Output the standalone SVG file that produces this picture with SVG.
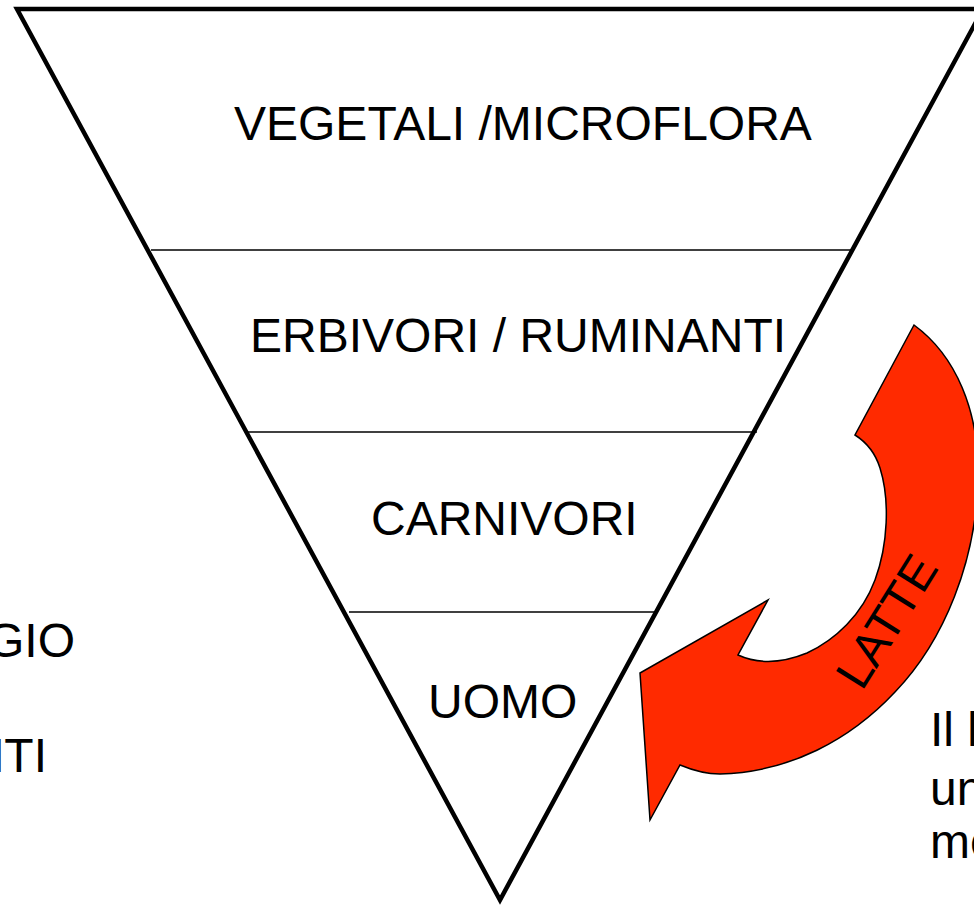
<svg xmlns="http://www.w3.org/2000/svg" width="974" height="905" viewBox="0 0 974 905">
<style>
text{font-family:"Liberation Sans",Arial,sans-serif;font-size:48px;fill:#000}
.div{stroke:#000;stroke-width:1.5}
</style>
<rect width="974" height="905" fill="#fff"/>
<g id="pyramid">
<polygon points="17,9 983,9 500,900" fill="#fff" stroke="#000" stroke-width="4.5" stroke-linejoin="miter"/>
<line class="div" x1="151" y1="250" x2="852" y2="250"/>
<line class="div" x1="247" y1="432" x2="757" y2="432"/>
<line class="div" x1="349" y1="612" x2="655" y2="612"/>
</g>
<g id="level1"><text x="234" y="140">VEGETALI /MICROFLORA</text></g>
<g id="level2"><text x="250" y="352">ERBIVORI / RUMINANTI</text></g>
<g id="level3"><text x="371" y="535">CARNIVORI</text></g>
<g id="level4"><text x="428" y="718">UOMO</text></g>
<g id="arrow">
<path d="M914,325 C955,355 980,410 978,480 C976,560 945,640 895,692 C850,740 790,772 720,774 C705,774 692,770 680,765 L650,820 L640,673 L768,600 L738,655 C760,665 785,662 807,653 C835,640 862,615 875,580 C888,545 890,500 880,468 C875,452 866,442 855,435 Z" fill="#ff2a00" stroke="#000" stroke-width="1.5" stroke-linejoin="miter"/>
<text x="888" y="637" text-anchor="middle" transform="rotate(-58 888 622)">LATTE</text>
</g>
<g id="left-text">
<text x="75" y="657" text-anchor="end">GIO</text>
<text x="47" y="772" text-anchor="end">NTI</text>
</g>
<g id="right-text">
<text x="930" y="746">Il l</text>
<text x="930" y="805">un</text>
<text x="930" y="858">me</text>
</g>
<g id="connectors"></g>
</svg>
